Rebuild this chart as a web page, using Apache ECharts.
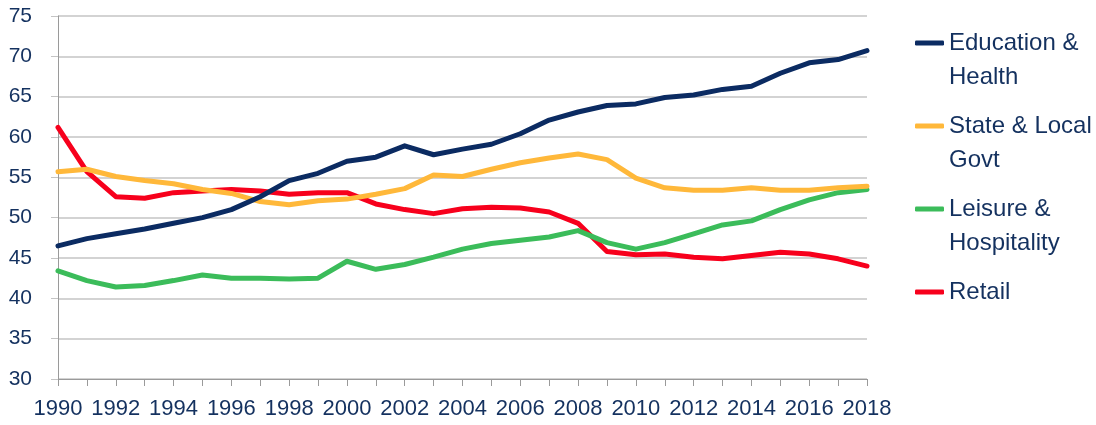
<!DOCTYPE html>
<html>
<head>
<meta charset="utf-8">
<script src="https://cdn.jsdelivr.net/npm/echarts@6/dist/echarts.min.js"></script>
<style>
  html, body { margin: 0; padding: 0; background: #fff; }
  #chart { width: 1096px; height: 425px; }
</style>
</head>
<body>
<div id="chart"></div>
<script>
const years = [
  "1990", "1991", "1992", "1993", "1994", "1995", "1996", "1997", "1998", "1999",
  "2000", "2001", "2002", "2003", "2004", "2005", "2006", "2007", "2008", "2009",
  "2010", "2011", "2012", "2013", "2014", "2015", "2016", "2017", "2018"
];

const educationHealth = [
  46.5, 47.4, 48.0, 48.6, 49.3, 50.0, 51.0, 52.6, 54.6, 55.5,
  57.0, 57.5, 58.9, 57.8, 58.5, 59.1, 60.4, 62.1, 63.1, 63.9,
  64.1, 64.9, 65.2, 65.9, 66.3, 67.9, 69.2, 69.6, 70.7
];
const stateLocalGovt = [
  55.7, 56.0, 55.1, 54.6, 54.2, 53.5, 53.0, 52.0, 51.6, 52.1,
  52.3, 52.9, 53.6, 55.3, 55.1, 56.0, 56.8, 57.4, 57.9, 57.2,
  54.9, 53.7, 53.4, 53.4, 53.7, 53.4, 53.4, 53.7, 53.9
];
const leisureHospitality = [
  43.4, 42.2, 41.4, 41.6, 42.2, 42.9, 42.5, 42.5, 42.4, 42.5,
  44.6, 43.6, 44.2, 45.1, 46.1, 46.8, 47.2, 47.6, 48.4, 46.9,
  46.1, 46.9, 48.0, 49.1, 49.6, 51.0, 52.2, 53.1, 53.5
];
const retail = [
  61.2, 55.7, 52.6, 52.4, 53.1, 53.3, 53.5, 53.3, 52.9, 53.1,
  53.1, 51.7, 51.0, 50.5, 51.1, 51.3, 51.2, 50.7, 49.3, 45.8,
  45.4, 45.5, 45.1, 44.9, 45.3, 45.7, 45.5, 44.9, 44.0
];

const seriesNames = ["Education & Health", "State & Local Govt", "Leisure & Hospitality", "Retail"];
// a blank first line keeps the first text line level with the legend icon
const legendLabels = [" \nEducation &\nHealth", " \nState & Local\nGovt", " \nLeisure &\nHospitality", " \nRetail\n "];
const colors = ["#0b2b62", "#ffb83a", "#3bbc5a", "#f7001c"];

const textColor = "#14315f";
const font = "'Liberation Sans', Arial, sans-serif";

const chart = echarts.init(document.getElementById("chart"), null, { renderer: "canvas" });

const seriesData = [educationHealth, stateLocalGovt, leisureHospitality, retail];

const option = {
  animation: false,
  backgroundColor: "#fff",
  color: colors,
  grid: { left: 58, right: 229, top: 16, bottom: 46, containLabel: false },
  legend: {
    orient: "vertical",
    left: 915,
    top: -8,
    padding: 0,
    itemGap: -19,
    icon: "roundRect",
    itemWidth: 29,
    itemHeight: 5,
    formatter: (name) => legendLabels[seriesNames.indexOf(name)],
    textStyle: {
      fontFamily: font,
      fontSize: 24,
      lineHeight: 34,
      color: textColor
    },
    data: seriesNames
  },
  xAxis: {
    type: "category",
    data: years,
    boundaryGap: false,
    axisLine: { lineStyle: { color: "#9a9a9a", width: 1 } },
    axisTick: { show: true, interval: 0, length: 7, lineStyle: { color: "#9a9a9a" } },
    axisLabel: {
      interval: 1,
      margin: 19,
      fontFamily: font,
      fontSize: 22,
      color: textColor
    },
    splitLine: { show: false }
  },
  yAxis: {
    type: "value",
    min: 30,
    max: 75,
    interval: 5,
    axisLine: { show: true, lineStyle: { color: "#9a9a9a", width: 1 } },
    axisTick: { show: true, length: 7, lineStyle: { color: "#c4c4c4" } },
    axisLabel: {
      margin: 26,
      fontFamily: font,
      fontSize: 21,
      color: textColor
    },
    splitLine: { show: true, lineStyle: { color: "#c4c4c4", width: 1.5 } }
  },
  series: seriesNames.map((name, i) => ({
    name: name,
    type: "line",
    data: seriesData[i],
    symbol: "none",
    smooth: false,
    lineStyle: { width: 5, color: colors[i], cap: "round", join: "round" },
    itemStyle: { color: colors[i] },
    z: 10 - i
  }))
};

chart.setOption(option);
</script>
</body>
</html>
